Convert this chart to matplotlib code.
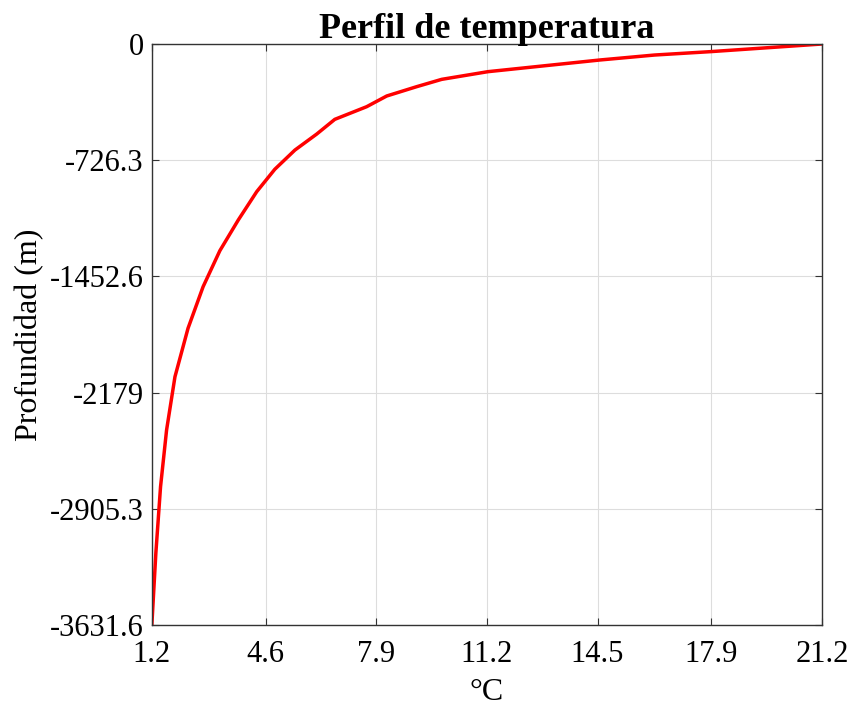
import numpy as np
import matplotlib
matplotlib.use('Agg')
from matplotlib import pyplot as plt

# temperature (C) vs depth (m)
temp = [21.2, 17.86, 16.2, 14.57, 11.23, 9.85, 9.10, 8.21, 7.61, 6.66, 6.12, 5.47,
        4.87, 4.33, 3.78, 3.23, 2.73, 2.28, 1.89, 1.64, 1.46, 1.32, 1.2]
depth = [0, -48, -69, -100, -173, -221, -267, -325, -392, -471, -563, -663,
         -783, -923, -1100, -1292, -1517, -1777, -2080, -2413, -2767, -3182, -3631.6]

xticks = [1.2, 4.6, 7.9, 11.2, 14.5, 17.9, 21.2]
yticks = [-3631.6, -2905.3, -2179, -1452.6, -726.3, 0]
yticklabels = ['-3631.6', '-2905.3', '-2179', '-1452.6', '-726.3', '0']

plt.rcParams['font.family'] = ['Liberation Serif', 'DejaVu Serif']

fig = plt.figure(figsize=(8.53, 7.13), dpi=100)
ax = fig.add_axes([0.178, 0.1234, 0.7857, 0.8149])

ax.plot(temp, depth, color='red', linewidth=2.5)

ax.set_xlim(1.2, 21.2)
ax.set_ylim(-3631.6, 0)
ax.set_xticks(xticks)
ax.set_xticklabels([str(t) for t in xticks])
ax.set_yticks(yticks)
ax.set_yticklabels(yticklabels)
ax.tick_params(direction='in', top=True, right=True, labelsize=22, length=5,
               color='#333333')
ax.tick_params(axis='x', pad=11)
ax.tick_params(axis='y', pad=6)
ax.grid(True, color='#dddddd', linewidth=0.8)
for s in ax.spines.values():
    s.set_color('#333333')
    s.set_linewidth(1.0)

ax.set_title('Perfil de temperatura', fontsize=26, fontweight='bold', pad=4)
ax.set_xlabel('°C', fontsize=23, labelpad=6)
ax.set_ylabel('Profundidad (m)', fontsize=23, labelpad=4)

plt.savefig('out.png', dpi=100)
